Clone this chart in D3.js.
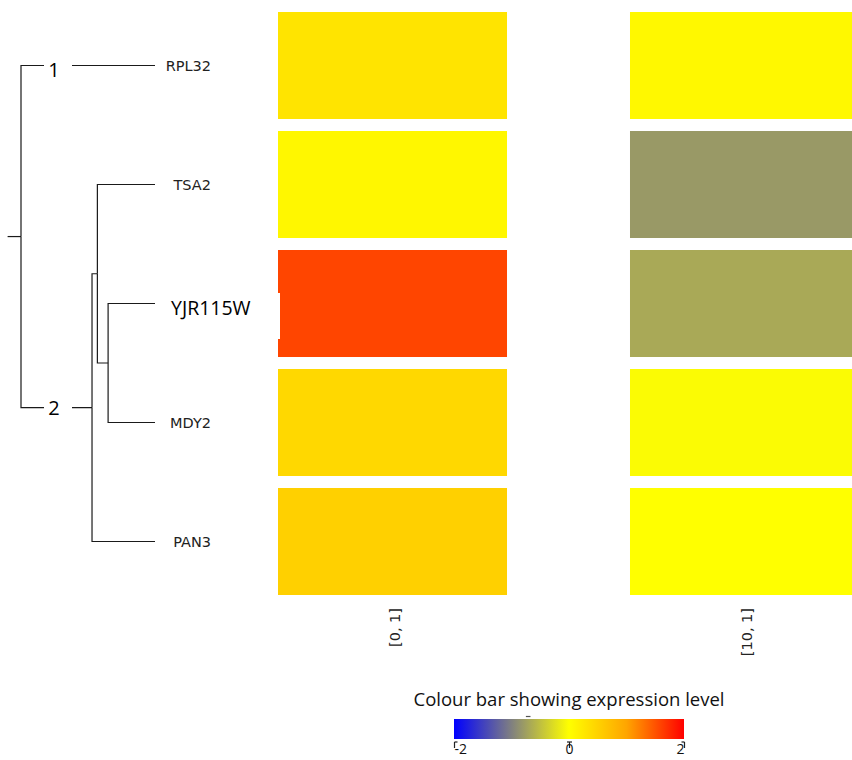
<!DOCTYPE html>
<html>
<head>
<meta charset="utf-8">
<script src="https://cdn.jsdelivr.net/npm/d3@7"></script>
<style>
  html, body { margin: 0; padding: 0; background: #ffffff; }
  svg { display: block; }
</style>
</head>
<body>
<svg id="chart" width="852" height="760"></svg>
<script>
// Genes (rows, top to bottom) and conditions (columns)
const genes = ["RPL32", "TSA2", "YJR115W", "MDY2", "PAN3"];
const conditions = ["[0, 1]", "[10, 1]"];

// Expression level per gene for each condition
const exprCond0 = [0.30, 0.09, 1.58, 0.43, 0.52];
const exprCond10 = [0.08, -0.80, -0.68, -0.03, 0.00];

// Colour scale stops
const colourDomain = [-2, -1, 0, 1, 2];
const colourRange = ["#0000ff", "#808080", "#ffff00", "#ffa500", "#ff0000"];
const barTicks = [-2, 0, 2];

// Hierarchical clustering merges (hclust style): left child, right child, height
const mergeLeft = ["YJR115W", "TSA2", "PAN3", "RPL32"];
const mergeRight = ["MDY2", "N1", "N2", "N3"];
const mergeHeight = [0.35, 0.43, 0.47, 1.0];
const rootStub = 1.1;

// Cluster labels on the root's two branches
const clusterLabels = ["1", "2"];

const svg = d3.select("#chart");

// ---- scales ----
const y = d3.scaleBand().domain(genes).range([12, 595]).paddingInner(0.1008).paddingOuter(0);
const x = d3.scaleBand().domain(conditions).range([278, 859]).paddingInner(0.3494).paddingOuter(0);
const colour = d3.scaleLinear().domain(colourDomain).range(colourRange).clamp(true);
const dist = d3.scaleLinear().domain([0, 1]).range([155, 21]);

// ---- heatmap cells ----
const cells = [];
genes.forEach((g, i) => {
  cells.push({ gene: g, cond: conditions[0], v: exprCond0[i] });
  cells.push({ gene: g, cond: conditions[1], v: exprCond10[i] });
});
svg.append("g").selectAll("rect").data(cells).join("rect")
  .attr("x", d => x(d.cond))
  .attr("y", d => y(d.gene))
  .attr("width", x.bandwidth())
  .attr("height", y.bandwidth())
  .attr("fill", d => colour(d.v));

// ---- dendrogram ----
const nodes = {};
genes.forEach(g => { nodes[g] = { id: g, x: dist(0), y: y(g) + y.bandwidth() / 2, leaf: true }; });
mergeLeft.forEach((a, i) => {
  const id = "N" + (i + 1);
  const ca = nodes[a], cb = nodes[mergeRight[i]];
  nodes[id] = {
    id, children: [ca, cb],
    x: dist(mergeHeight[i]),
    y: (Math.min(ca.y, cb.y) + Math.max(ca.y, cb.y)) / 2
  };
});
const root = nodes["N" + mergeLeft.length];

const tree = svg.append("g")
  .attr("fill", "none")
  .attr("stroke", "#1a1a1a")
  .attr("stroke-width", 1.2);

const links = [];
Object.values(nodes).forEach(n => {
  if (n.children) n.children.forEach(c => links.push({ p: n, c }));
});
tree.selectAll("path").data(links).join("path")
  .attr("d", d => `M${d.p.x},${d.p.y}V${d.c.y}H${d.c.x}`);
tree.append("path").attr("d", `M${dist(rootStub)},${root.y}H${root.x}`);

// cluster numbers sit on the two branches leaving the root
const labelX = 54;
const branchKids = root.children.slice().sort((a, b) => a.y - b.y);
const clusterG = svg.append("g");
branchKids.forEach((c, i) => {
  clusterG.append("rect")
    .attr("x", 44).attr("y", c.y - 14)
    .attr("width", 28).attr("height", 28)
    .attr("fill", "#ffffff");
  clusterG.append("text")
    .attr("x", labelX).attr("y", c.y)
    .attr("dy", i === 0 ? 11 : 7)
    .attr("text-anchor", "middle")
    .attr("font-family", "'Open Sans', sans-serif")
    .attr("font-size", 20)
    .attr("fill", "#000")
    .text(clusterLabels[i]);
});

// ---- gene labels ----
const geneG = svg.append("g");
genes.forEach(g => {
  const cy = y(g) + y.bandwidth() / 2;
  if (g === "YJR115W") {
    geneG.append("rect")
      .attr("x", 160).attr("y", 293)
      .attr("width", 120).attr("height", 46)
      .attr("fill", "#ffffff");
    geneG.append("text")
      .attr("x", 171).attr("y", cy).attr("dy", 11.5)
      .attr("font-family", "'Open Sans', sans-serif")
      .attr("font-size", 19.5)
      .attr("fill", "#000")
      .text(g);
  } else {
    geneG.append("text")
      .attr("x", 211).attr("y", cy).attr("dy", 5.5)
      .attr("text-anchor", "end")
      .attr("font-family", "'DejaVu Sans', sans-serif")
      .attr("font-size", 14.5)
      .attr("fill", "#222")
      .text(g);
  }
});

// ---- column labels ----
svg.append("g").selectAll("text").data(conditions).join("text")
  .attr("transform", d => `translate(${x(d) + x.bandwidth() / 2},608) rotate(-90)`)
  .attr("dy", "0.5em")
  .attr("text-anchor", "end")
  .attr("font-family", "'DejaVu Sans', sans-serif")
  .attr("font-size", 14.5)
  .attr("fill", "#222")
  .text(d => d);

// ---- colour bar ----
const bar = d3.scaleLinear().domain([-2, 2]).range([454, 684]);
const defs = svg.append("defs");
const grad = defs.append("linearGradient").attr("id", "exprGrad")
  .attr("x1", "0%").attr("x2", "100%").attr("y1", "0%").attr("y2", "0%");
grad.selectAll("stop").data(colourDomain).join("stop")
  .attr("offset", d => ((bar(d) - bar(-2)) / (bar(2) - bar(-2)) * 100) + "%")
  .attr("stop-color", d => colour(d));

svg.append("text")
  .attr("x", (bar(-2) + bar(2)) / 2).attr("y", 706)
  .attr("text-anchor", "middle")
  .attr("font-family", "'Open Sans', sans-serif")
  .attr("font-size", 18.5)
  .attr("fill", "#111")
  .text("Colour bar showing expression level");

svg.append("rect")
  .attr("x", bar(-2)).attr("y", 719)
  .attr("width", bar(2) - bar(-2)).attr("height", 20)
  .attr("fill", "url(#exprGrad)");

// small mark above the bar
svg.append("line")
  .attr("x1", bar(-0.75)).attr("x2", bar(-0.67))
  .attr("y1", 716.5).attr("y2", 716.5)
  .attr("stroke", "#555").attr("stroke-width", 1.2);

const axis = svg.append("g").attr("transform", "translate(0,742)")
  .call(d3.axisBottom(bar).tickValues(barTicks).tickSize(6).tickPadding(-4).tickSizeOuter(0));
axis.select(".domain").remove();
axis.selectAll(".tick line").attr("stroke", "#222").attr("stroke-width", 1.2);
axis.selectAll(".tick").append("path")
  .attr("d", d => d === -2 ? "M0,0H3" : d === 2 ? "M-3,0H0" : "M-2.5,0H2.5")
  .attr("stroke", "#222").attr("stroke-width", 1.2).attr("fill", "none");
axis.selectAll(".tick text")
  .attr("font-family", "'Open Sans', sans-serif")
  .attr("font-size", 14)
  .attr("fill", "#111")
  .attr("text-anchor", d => d === -2 ? "start" : d === 2 ? "end" : "middle")
  .text(d => d);
</script>
</body>
</html>
